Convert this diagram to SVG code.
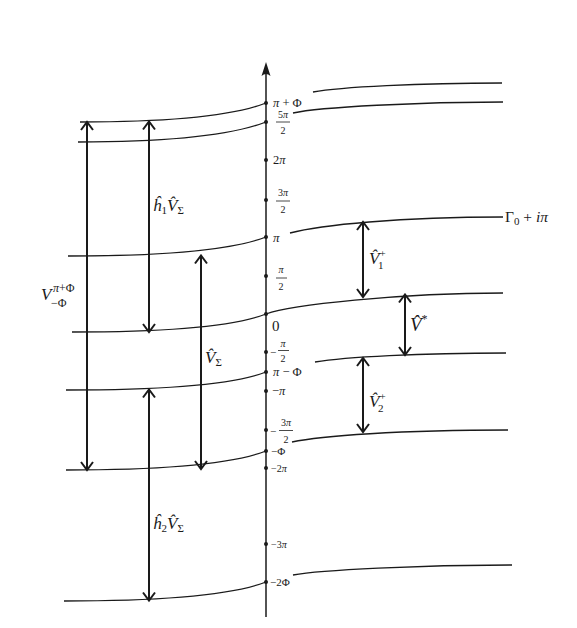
<svg xmlns="http://www.w3.org/2000/svg" width="577" height="628" viewBox="0 0 577 628">
<style>
.c{fill:none;stroke:#1a1a1a;stroke-width:1.3}
.a{fill:none;stroke:#1a1a1a;stroke-width:2;marker-start:url(#ch);marker-end:url(#ch)}
.t{font-family:"Liberation Serif","DejaVu Serif",serif;fill:#1a1a1a}
.i{font-style:italic}
.bar{stroke:#1a1a1a;stroke-width:0.8}
.d{fill:#1a1a1a}
</style>
<defs>
<marker id="ch" viewBox="-10 -8 12 16" markerWidth="12" markerHeight="16" refX="0" refY="0" orient="auto-start-reverse" markerUnits="userSpaceOnUse">
<path d="M -8 -6 L 0 0 L -8 6" fill="none" stroke="#1a1a1a" stroke-width="2"/>
</marker>
</defs>
<rect width="577" height="628" fill="#fff"/>

<g id="axis">
<line x1="266" y1="617" x2="266" y2="70" stroke="#1a1a1a" stroke-width="1.5"/>
<path d="M 266 62 L 270.5 76 Q 266 72 261.5 76 Z" fill="#1a1a1a"/>
<g class="d">
<circle cx="266" cy="103" r="2"/><circle cx="266" cy="122" r="2"/><circle cx="266" cy="160" r="2"/>
<circle cx="266" cy="200" r="2"/><circle cx="266" cy="237" r="2"/><circle cx="266" cy="276" r="2"/>
<circle cx="266" cy="314" r="2"/><circle cx="266" cy="352" r="2"/><circle cx="266" cy="372" r="2"/>
<circle cx="266" cy="391" r="2"/><circle cx="266" cy="430" r="2"/><circle cx="266" cy="451" r="2"/>
<circle cx="266" cy="468" r="2"/><circle cx="266" cy="544" r="2"/><circle cx="266" cy="582" r="2"/>
</g>
</g>

<g id="axis-labels" class="t">
<text x="273" y="107" font-size="12.5"><tspan class="i">π</tspan> + Φ</text>
<text x="283" y="118" font-size="10" text-anchor="middle">5<tspan class="i">π</tspan></text>
<line class="bar" x1="276" y1="122" x2="290" y2="122"/>
<text x="283" y="134" font-size="10" text-anchor="middle">2</text>
<text x="273" y="164" font-size="12.5">2<tspan class="i">π</tspan></text>
<text x="283" y="196" font-size="10" text-anchor="middle">3<tspan class="i">π</tspan></text>
<line class="bar" x1="276" y1="201" x2="290" y2="201"/>
<text x="283" y="213" font-size="10" text-anchor="middle">2</text>
<text x="273" y="242" font-size="13" class="i">π</text>
<text x="281" y="273" font-size="10" text-anchor="middle" class="i">π</text>
<line class="bar" x1="276" y1="278" x2="287" y2="278"/>
<text x="281" y="290" font-size="10" text-anchor="middle">2</text>
<text x="272" y="331" font-size="15">0</text>
<text x="270" y="356" font-size="11">−</text>
<text x="283" y="347" font-size="10" text-anchor="middle" class="i">π</text>
<line class="bar" x1="278" y1="350.5" x2="289" y2="350.5"/>
<text x="283" y="362" font-size="10" text-anchor="middle">2</text>
<text x="273" y="376" font-size="12.5"><tspan class="i">π</tspan> − Φ</text>
<text x="272" y="395" font-size="12.5">−<tspan class="i">π</tspan></text>
<text x="270" y="435" font-size="11">−</text>
<text x="286" y="426" font-size="10" text-anchor="middle">3<tspan class="i">π</tspan></text>
<line class="bar" x1="279" y1="430.5" x2="293" y2="430.5"/>
<text x="286" y="443" font-size="10" text-anchor="middle">2</text>
<text x="271" y="455" font-size="11">−Φ</text>
<text x="271" y="472" font-size="10">−2<tspan class="i">π</tspan></text>
<text x="271" y="548" font-size="10">−3<tspan class="i">π</tspan></text>
<text x="270" y="586" font-size="11">−2Φ</text>
<text x="505" y="222" font-size="15.5">Γ<tspan font-size="11" dy="3">0</tspan><tspan dy="-3"> + </tspan><tspan class="i">iπ</tspan></text>
</g>

<g id="curves">
<path class="c" d="M 80 122 C 180 122, 235 115, 266 103"/>
<path class="c" d="M 313 92 C 340 87, 420 83, 502 83"/>
<path class="c" d="M 78 142 C 178 142, 235 134, 266 122"/>
<path class="c" d="M 293 113 C 320 107, 420 102, 503 102"/>
<path class="c" d="M 68 256 C 170 256, 235 249, 266 237"/>
<path class="c" d="M 290 233 C 320 225, 400 217, 503 217"/>
<path class="c" d="M 72 332 C 172 332, 235 326, 266 314 C 290 305, 400 293, 503 293"/>
<path class="c" d="M 66 390 C 168 390, 235 384, 266 372"/>
<path class="c" d="M 315 362 C 345 357, 420 353, 506 353"/>
<path class="c" d="M 66 470 C 168 470, 235 463, 266 451"/>
<path class="c" d="M 292 442 C 320 436, 400 430, 508 430"/>
<path class="c" d="M 64 601 C 166 601, 235 594, 266 582"/>
<path class="c" d="M 293 575 C 320 570, 420 565, 512 565"/>
</g>

<g id="connectors">
<line class="a" x1="87" y1="122" x2="87" y2="470"/>
<line class="a" x1="149" y1="121.5" x2="149" y2="332"/>
<line class="a" x1="201" y1="255.5" x2="201" y2="469"/>
<line class="a" x1="149" y1="389.5" x2="149" y2="600.5"/>
<line class="a" x1="363" y1="222" x2="363" y2="297"/>
<line class="a" x1="405" y1="294.5" x2="405" y2="355"/>
<line class="a" x1="363" y1="358" x2="363" y2="432"/>
</g>

<g id="labels" class="t">
<text x="41" y="300" font-size="17"><tspan class="i">V</tspan><tspan font-size="12" x="53" y="292"><tspan class="i">π</tspan>+Φ</tspan><tspan font-size="12" x="51" y="307">−Φ</tspan></text>
<text x="153" y="211" font-size="17"><tspan class="i">ĥ</tspan><tspan font-size="11" dy="3">1</tspan><tspan class="i" dy="-3">V̂</tspan><tspan font-size="11" dy="3">Σ</tspan></text>
<text x="205" y="363" font-size="17"><tspan class="i">V̂</tspan><tspan font-size="11" dy="3">Σ</tspan></text>
<text x="153" y="529" font-size="17"><tspan class="i">ĥ</tspan><tspan font-size="11" dy="3">2</tspan><tspan class="i" dy="-3">V̂</tspan><tspan font-size="11" dy="3">Σ</tspan></text>
<text x="369" y="264" font-size="17"><tspan class="i">V̂</tspan><tspan font-size="11" dy="-7">+</tspan><tspan font-size="11" x="378" y="269">1</tspan></text>
<text x="410" y="331" font-size="19"><tspan class="i">V̂</tspan><tspan font-size="12" dy="-8">*</tspan></text>
<text x="369" y="407" font-size="17"><tspan class="i">V̂</tspan><tspan font-size="11" dy="-7">+</tspan><tspan font-size="11" x="378" y="412">2</tspan></text>
</g>
</svg>
